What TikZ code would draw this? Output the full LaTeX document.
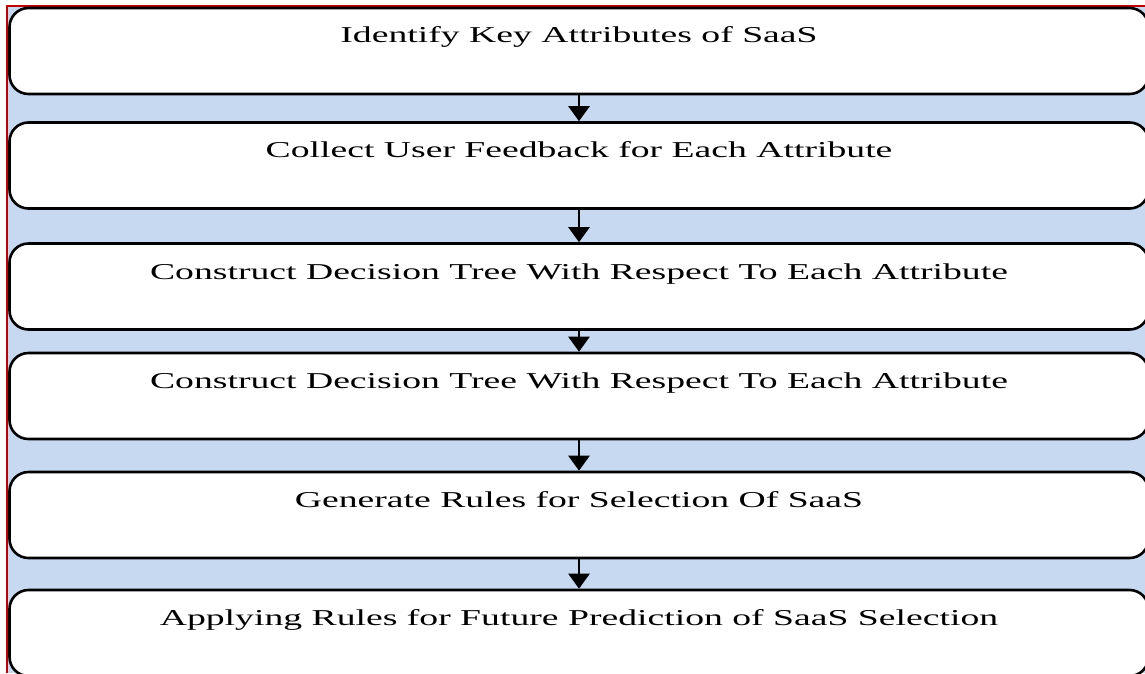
\documentclass[tikz,border=0pt]{standalone}
\usepackage{fontspec}
\setmainfont{Liberation Serif}
\usepackage{xcolor}
\definecolor{Sky Wash}{HTML}{C6D9F0}
\definecolor{Brick}{HTML}{C00000}
\colorlet{cBack}{Sky Wash}
\colorlet{cFrame}{Brick}
\usepackage{tikz}
\usetikzlibrary{calc, positioning, arrows.meta}
\tikzset{
	x = 1pt,
	y = -1pt,
	stepbox/.style={
		draw,
		fill=white,
		rounded corners=19pt,
		minimum width=1139pt,
		minimum height=86pt,
		inner sep=0pt,
		line width=2.6pt
	},
	steptext/.style={
		anchor=base,
		inner sep=0pt,
		font=\fontsize{22.7}{27}\selectfont
	},
	flow/.style={
		-{Triangle[width=21pt,length=15pt]},
		line width=2.4pt
	}
}
\newcommand{\widetext}[1]{\scalebox{1.66}[1]{#1}}

\begin{document}
\begin{tikzpicture}
% ---
% frame and background
% ---
\useasboundingbox (0,0) rectangle (1145,673);
\clip (0,0) rectangle (1145,673);
\fill[cBack] (6.5,5.5) rectangle (1145,673);
\draw[cFrame, line width=2pt] (6.5,673) -- (6.5,5.5) -- (1145,5.5);

% ---
% steps
% ---
\node[stepbox] at (579,51) (box1) {};
\node[stepbox] at (579,165.5) (box2) {};
\node[stepbox] at (579,286.5) (box3) {};
\node[stepbox] at (579,396) (box4) {};
\node[stepbox] at (579,515) (box5) {};
\node[stepbox] at (579,633) (box6) {};

\node[steptext] at ([yshift=-36pt]box1.north) (text1) {\widetext{Identify Key Attributes of SaaS}};
\node[steptext] at ([yshift=-36pt]box2.north) (text2) {\widetext{Collect User Feedback for Each Attribute}};
\node[steptext] at ([yshift=-37pt]box3.north) (text3) {\widetext{Construct Decision Tree With Respect To Each Attribute}};
\node[steptext] at ([yshift=-37pt]box4.north) (text4) {\widetext{Construct Decision Tree With Respect To Each Attribute}};
\node[steptext] at ([yshift=-37pt]box5.north) (text5) {\widetext{Generate Rules for Selection Of SaaS}};
\node[steptext] at ([yshift=-37pt]box6.north) (text6) {\widetext{Applying Rules for Future Prediction of SaaS Selection}};

\draw[flow] (box1) to (box2);
\draw[flow] (box2) to (box3);
\draw[flow] (box3) to (box4);
\draw[flow] (box4) to (box5);
\draw[flow] (box5) to (box6);
\end{tikzpicture}
\end{document}
